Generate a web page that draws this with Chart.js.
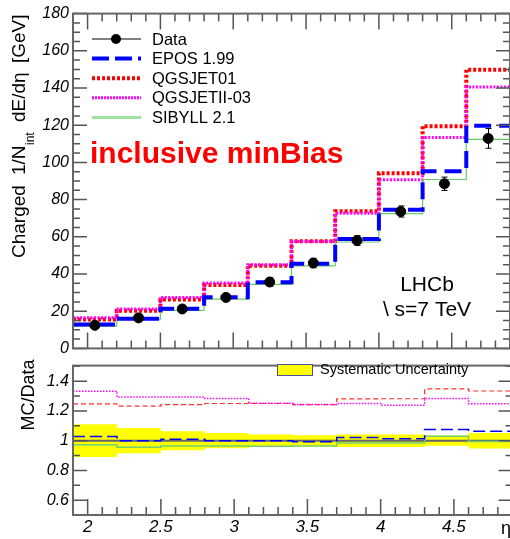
<!DOCTYPE html>
<html>
<head>
<meta charset="utf-8">
<script src="https://cdn.jsdelivr.net/npm/chart.js@4.4.0/dist/chart.umd.min.js"></script>
<style>
  html, body { margin: 0; padding: 0; background: #fff; overflow: hidden; width: 510px; height: 539px; }
  canvas { position: absolute; left: 0; }
  #spectrum { top: 0; }
  #ratio { top: 352px; }
</style>
</head>
<body>
<canvas id="spectrum" width="516" height="362"></canvas>
<canvas id="ratio" width="516" height="187"></canvas>
<script>
// eta bins (edges) and per-bin values
const binEdges = [1.9, 2.2, 2.5, 2.8, 3.1, 3.4, 3.7, 4.0, 4.3, 4.6, 4.9];
const dataValues = [12.4, 16.4, 21.2, 27.4, 35.7, 45.9, 58.0, 73.6, 88.5, 112.9];
const dataErrors = [1.0, 1.2, 1.5, 1.9, 2.2, 2.5, 2.6, 3.0, 3.6, 5.3];
const eposValues = [12.8, 16.0, 21.3, 27.5, 35.6, 45.5, 58.8, 74.6, 95.3, 119.7];
const qgsjet01Values = [15.5, 20.3, 26.3, 34.1, 44.4, 57.6, 73.8, 94.2, 119.5, 149.8];
const qgsjet2Values = [16.5, 21.2, 27.4, 35.2, 45.0, 57.5, 72.6, 90.7, 113.4, 140.5];
const sibyllValues = [12.0, 15.7, 20.4, 26.5, 34.4, 44.4, 57.2, 72.5, 90.8, 112.4];

// MC / Data ratios
const eposRatio = [1.028, 1.000, 1.009, 1.000, 1.000, 0.992, 1.022, 1.013, 1.075, 1.063];
const qgsjet01Ratio = [1.248, 1.232, 1.243, 1.250, 1.250, 1.243, 1.281, 1.282, 1.348, 1.334];
const qgsjet2Ratio = [1.332, 1.293, 1.293, 1.284, 1.252, 1.243, 1.250, 1.239, 1.284, 1.248];
const sibyllRatio = [0.972, 0.955, 0.964, 0.964, 0.962, 0.964, 0.985, 0.985, 1.030, 0.995];
const sysUncertainty = [0.110, 0.085, 0.064, 0.051, 0.042, 0.037, 0.042, 0.042, 0.035, 0.052];

// tick labels
const yTicksTop = [0, 20, 40, 60, 80, 100, 120, 140, 160, 180];
const yTicksRatio = [0.6, 0.8, 1, 1.2, 1.4];
const xTicks = [2, 2.5, 3, 3.5, 4, 4.5];

const FONT = "'Liberation Sans', Arial, Helvetica, sans-serif";
const AXIS = '#555';

// histogram as step line: one point per lower edge plus the last upper edge
function stepPoints(values) {
  const pts = values.map((v, i) => ({ x: binEdges[i], y: v }));
  pts.push({ x: binEdges[binEdges.length - 1], y: values[values.length - 1] });
  return pts;
}

function histLine(values, color, width, dash, order) {
  return {
    type: 'line', data: stepPoints(values), stepped: true,
    borderColor: color, borderWidth: width, borderDash: dash, borderCapStyle: 'butt',
    pointRadius: 0, fill: false, order: order
  };
}

const binCentre = i => (binEdges[i] + binEdges[i + 1]) / 2;

// ROOT-like frame with inward ticks
function frame(opts) {
  return {
    id: 'frame',
    afterDatasetsDraw(chart) {
      const { ctx, chartArea: a, scales: { x, y } } = chart;
      ctx.save();
      ctx.strokeStyle = AXIS;
      ctx.lineWidth = 1.5;
      ctx.beginPath();
      for (let i = 19; i <= 49; i++) {
        const px = x.getPixelForValue(i / 10);
        const len = i % 5 === 0 ? 16 : 8;
        ctx.moveTo(px, a.bottom); ctx.lineTo(px, a.bottom - len);
        if (opts.topTicks) { ctx.moveTo(px, a.top); ctx.lineTo(px, a.top + len); }
      }
      for (let k = 0; k <= opts.yCount; k++) {
        const v = opts.yStart + k * opts.yStep;
        const py = y.getPixelForValue(v);
        const len = opts.isMajor(k) ? 14 : 7;
        ctx.moveTo(a.left, py); ctx.lineTo(a.left + len, py);
        ctx.moveTo(a.right, py); ctx.lineTo(a.right - len, py);
      }
      ctx.stroke();
      ctx.lineWidth = 2;
      ctx.strokeStyle = '#666';
      ctx.strokeRect(a.left, a.top, a.right - a.left, a.bottom - a.top);
      ctx.restore();
    }
  };
}

const errorBars = {
  id: 'errorBars',
  afterDatasetsDraw(chart) {
    const { ctx, scales: { x, y } } = chart;
    ctx.save();
    ctx.strokeStyle = '#000';
    ctx.lineWidth = 1;
    ctx.beginPath();
    dataValues.forEach((v, i) => {
      const px = Math.round(x.getPixelForValue(binCentre(i))) + 0.5;
      const hi = y.getPixelForValue(v + dataErrors[i]);
      const lo = y.getPixelForValue(v - dataErrors[i]);
      ctx.moveTo(px, hi); ctx.lineTo(px, lo);
      ctx.moveTo(px - 3, hi); ctx.lineTo(px + 3, hi);
      ctx.moveTo(px - 3, lo); ctx.lineTo(px + 3, lo);
    });
    ctx.stroke();
    ctx.restore();
  }
};

const legendItems = [
  { label: 'Data', color: '#000', width: 1, dash: [], dot: true },
  { label: 'EPOS 1.99', color: '#0000ff', width: 4, dash: [17, 6] },
  { label: 'QGSJET01', color: '#ff0000', width: 4, dash: [3, 2] },
  { label: 'QGSJETII-03', color: '#ff00ff', width: 3, dash: [2, 1] },
  { label: 'SIBYLL 2.1', color: '#a0e0a0', width: 3, dash: [] }
];

// y title pieces: text, font size, offset along the axis, baseline shift
const yTitleParts = [
  ['Charged', 19, 0, 0],
  ['1/N', 19, 83, 0],
  ['int', 12, 113, 9],
  ['dE/d\u03b7', 19, 136, 0],
  ['[GeV]', 19, 195, 0]
];

const spectrumText = {
  id: 'spectrumText',
  afterDraw(chart) {
    const { ctx } = chart;
    ctx.save();
    // legend
    legendItems.forEach((it, i) => {
      const ly = 39 + i * 19.6;
      ctx.strokeStyle = it.color;
      ctx.lineWidth = it.width;
      ctx.setLineDash(it.dash);
      ctx.beginPath(); ctx.moveTo(92, ly); ctx.lineTo(141, ly); ctx.stroke();
      ctx.setLineDash([]);
      if (it.dot) {
        ctx.fillStyle = '#000';
        ctx.beginPath(); ctx.arc(116, ly, 5, 0, Math.PI * 2); ctx.fill();
      }
      ctx.fillStyle = '#000';
      ctx.font = '16.5px ' + FONT;
      ctx.textBaseline = 'middle';
      ctx.fillText(it.label, 152, ly + 1);
    });

    ctx.textBaseline = 'alphabetic';
    ctx.fillStyle = '#ff0000';
    ctx.font = 'bold 30px ' + FONT;
    ctx.fillText('inclusive minBias', 90, 163);

    ctx.fillStyle = '#000';
    ctx.font = '21px ' + FONT;
    ctx.textAlign = 'center';
    ctx.fillText('LHCb', 427, 291);
    ctx.fillText('\\ s=7 TeV', 427, 316);

    // rotated y title with subscript
    ctx.translate(25, 258);
    ctx.rotate(-Math.PI / 2);
    ctx.textAlign = 'left';
    yTitleParts.forEach(([t, size, off, shift]) => {
      ctx.font = size + 'px ' + FONT;
      ctx.fillText(t, off, shift);
    });
    ctx.restore();
  }
};

const ratioText = {
  id: 'ratioText',
  afterDraw(chart) {
    const { ctx } = chart;
    ctx.save();
    // legend box for the band
    ctx.fillStyle = '#ffff00';
    ctx.fillRect(277.5, 12.5, 35, 11);
    ctx.strokeStyle = '#5050a0';
    ctx.lineWidth = 1;
    ctx.strokeRect(277.5, 12.5, 35, 11);
    ctx.fillStyle = '#000';
    ctx.font = '14.5px ' + FONT;
    ctx.textBaseline = 'middle';
    ctx.fillText('Systematic Uncertainty', 320, 18);

    ctx.textBaseline = 'alphabetic';
    ctx.font = '18px ' + FONT;
    ctx.fillText('\u03b7', 501, 182);

    ctx.translate(34, 43);
    ctx.rotate(-Math.PI / 2);
    ctx.textAlign = 'center';
    ctx.fillText('MC/Data', 0, 0);
    ctx.restore();
  }
};

const tickFont = { family: FONT, size: 16, style: 'italic' };

function baseScales(yMin, yMax, yTicks, xLabels) {
  return {
    x: {
      type: 'linear', min: 1.9, max: 4.9,
      grid: { display: false, drawTicks: false }, border: { display: false },
      afterBuildTicks: s => { s.ticks = xTicks.map(v => ({ value: v })); },
      ticks: { display: xLabels, color: '#000', font: { family: FONT, size: 17, style: 'italic' }, padding: 2, maxRotation: 0, callback: v => String(v) },
      afterFit: s => { s.height = xLabels ? 24 : 0; }
    },
    y: {
      min: yMin, max: yMax,
      grid: { display: false, drawTicks: false }, border: { display: false },
      afterBuildTicks: s => { s.ticks = yTicks.map(v => ({ value: v })); },
      ticks: { color: '#000', font: tickFont, padding: 4, callback: v => String(v) },
      afterFit: s => { s.width = 73; }
    }
  };
}

const common = {
  responsive: false,
  animation: false,
  plugins: { legend: { display: false }, tooltip: { enabled: false } }
};

new Chart(document.getElementById('spectrum'), {
  type: 'line',
  data: {
    datasets: [
      {
        type: 'scatter', data: dataValues.map((v, i) => ({ x: binCentre(i), y: v })),
        pointRadius: 5, pointBackgroundColor: '#000', pointBorderColor: '#000', showLine: false, order: 0
      },
      histLine(eposValues, '#0000ff', 4, [17, 8], 1),
      histLine(sibyllValues, '#66cc66', 1.2, [], 2),
      histLine(qgsjet2Values, '#ff00ff', 3, [2, 1.5], 3),
      histLine(qgsjet01Values, '#ff0000', 4, [3, 2], 4)
    ]
  },
  options: Object.assign({}, common, {
    layout: { padding: { top: 12, right: 3.5, bottom: 12.5, left: 0 } },
    scales: baseScales(0, 180, yTicksTop, false)
  }),
  plugins: [errorBars, frame({ topTicks: true, yStart: 0, yStep: 5, yCount: 36, isMajor: k => k % 4 === 0 }), spectrumText]
});

new Chart(document.getElementById('ratio'), {
  type: 'line',
  data: {
    datasets: [
      histLine(eposRatio, '#0000ff', 1.5, [12, 5], 1),
      histLine(sibyllRatio, '#70d070', 1.5, [], 2),
      histLine(qgsjet2Ratio, '#ff00ff', 1.5, [1.5, 1.5], 3),
      histLine(qgsjet01Ratio, '#ff3030', 1.2, [5, 3], 4),
      histLine(dataValues.map(() => 1), '#666', 2, [], 5),
      Object.assign(histLine(sysUncertainty.map(s => 1 + s), 'rgba(0,0,0,0)', 0, [], 6),
        { fill: '+1', backgroundColor: '#ffff00' }),
      histLine(sysUncertainty.map(s => 1 - s), 'rgba(0,0,0,0)', 0, [], 7)
    ]
  },
  options: Object.assign({}, common, {
    layout: { padding: { top: 7, right: 3.5, bottom: 0, left: 0 } },
    scales: baseScales(0.5, 1.505, yTicksRatio, true)
  }),
  plugins: [frame({ topTicks: false, yStart: 0.5, yStep: 0.1, yCount: 10, isMajor: k => k % 2 === 1 }), ratioText]
});
</script>
</body>
</html>
